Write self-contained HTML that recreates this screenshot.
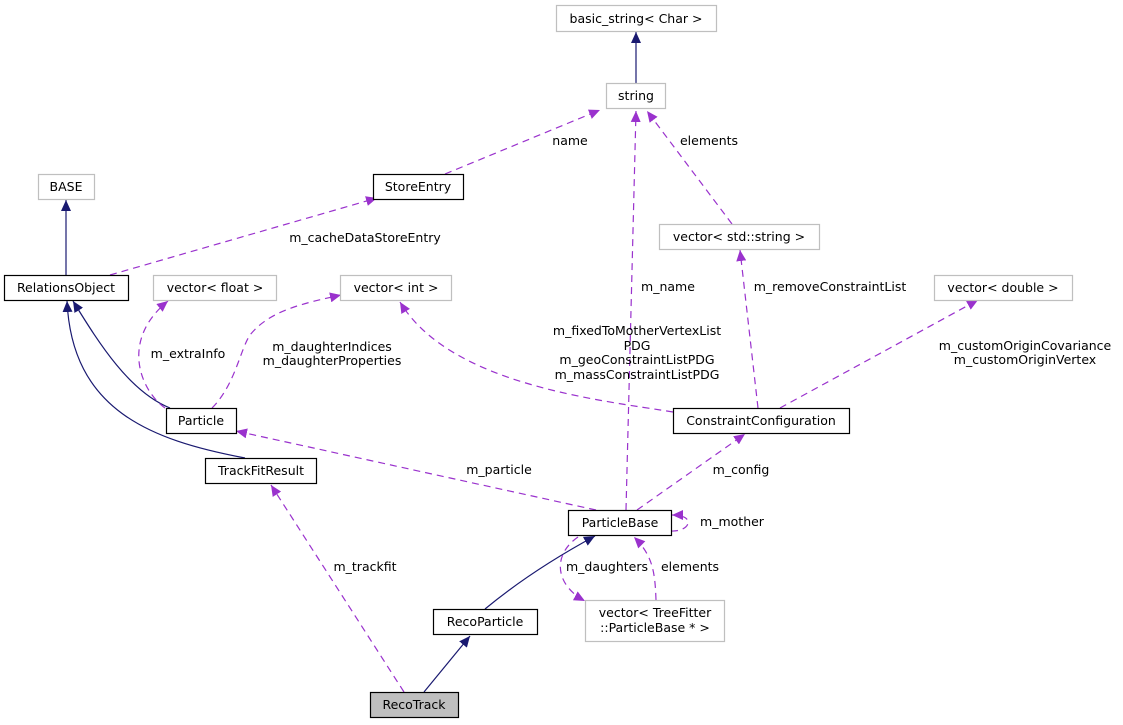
<!DOCTYPE html>
<html><head><meta charset="utf-8"><style>
html,body{margin:0;padding:0;background:#fff;}
svg{display:block;}
text{font-family:"DejaVu Sans","Liberation Sans",sans-serif;font-size:12.5px;fill:#000;}
</style></head><body>
<svg width="1123" height="725" viewBox="0 0 1123 725" xmlns="http://www.w3.org/2000/svg">
<defs>
<marker id="ap" markerUnits="userSpaceOnUse" markerWidth="12" markerHeight="10" refX="11" refY="5" orient="auto"><path d="M0,0 L11,5 L0,10 Z" fill="#9a32cd"/></marker>
<marker id="an" markerUnits="userSpaceOnUse" markerWidth="12" markerHeight="10" refX="11" refY="5" orient="auto"><path d="M0,0 L11,5 L0,10 Z" fill="#191970"/></marker>
</defs>
<g fill="none" stroke="#191970" stroke-width="1.2">
<path d="M636,83 L636,32" marker-end="url(#an)"/>
<path d="M66,275 L66,200" marker-end="url(#an)"/>
<path d="M170,408 C130,392 100,345 73,301" marker-end="url(#an)"/>
<path d="M245,458 C150,440 72,410 67,301" marker-end="url(#an)"/>
<path d="M485,609 C520,580 560,555 595,536" marker-end="url(#an)"/>
<path d="M424,692 L470,636" marker-end="url(#an)"/>
</g>
<g fill="none" stroke="#9a32cd" stroke-width="1.2" stroke-dasharray="7,5">
<path d="M445,174 L600,110" marker-end="url(#ap)"/>
<path d="M732,224 L647,111" marker-end="url(#ap)"/>
<path d="M626,510 L636,111" marker-end="url(#ap)"/>
<path d="M110,275 L377,198" marker-end="url(#ap)"/>
<path d="M165,408 C140,390 120,340 168,301" marker-end="url(#ap)"/>
<path d="M212,408 C235,385 240,350 250,335 C270,310 305,303 341,295" marker-end="url(#ap)"/>
<path d="M673,412 C600,400 450,385 400,302" marker-end="url(#ap)"/>
<path d="M758,408 L740,250" marker-end="url(#ap)"/>
<path d="M780,408 L978,300" marker-end="url(#ap)"/>
<path d="M596,510 L236,431" marker-end="url(#ap)"/>
<path d="M637,510 L745,434" marker-end="url(#ap)"/>
<path d="M671,531 C690,532 697,515 672,515" marker-end="url(#ap)"/>
<path d="M578,537 C552,555 555,585 585,601" marker-end="url(#ap)"/>
<path d="M656,600 C655,570 652,555 634,537" marker-end="url(#ap)"/>
<path d="M404,692 L271,485" marker-end="url(#ap)"/>
</g>
<g stroke-width="1.2">
<rect x="556.5" y="5.5" width="160" height="26" fill="#fff" stroke="#bfbfbf"/>
<rect x="606.5" y="83.5" width="59" height="25" fill="#fff" stroke="#bfbfbf"/>
<rect x="38.5" y="174.5" width="56" height="25" fill="#fff" stroke="#bfbfbf"/>
<rect x="373.5" y="174.5" width="90" height="25" fill="#fff" stroke="#000"/>
<rect x="659.5" y="224.5" width="160" height="25" fill="#fff" stroke="#bfbfbf"/>
<rect x="4.5" y="275.5" width="124" height="25" fill="#fff" stroke="#000"/>
<rect x="153.5" y="275.5" width="123" height="25" fill="#fff" stroke="#bfbfbf"/>
<rect x="340.5" y="275.5" width="111" height="25" fill="#fff" stroke="#bfbfbf"/>
<rect x="934.5" y="275.5" width="138" height="25" fill="#fff" stroke="#bfbfbf"/>
<rect x="166.5" y="408.5" width="70" height="25" fill="#fff" stroke="#000"/>
<rect x="673.5" y="408.5" width="176" height="25" fill="#fff" stroke="#000"/>
<rect x="205.5" y="458.5" width="111" height="25" fill="#fff" stroke="#000"/>
<rect x="568.5" y="510.5" width="103" height="25" fill="#fff" stroke="#000"/>
<rect x="433.5" y="609.5" width="104" height="25" fill="#fff" stroke="#000"/>
<rect x="585.5" y="600.5" width="139" height="41" fill="#fff" stroke="#bfbfbf"/>
<rect x="370.5" y="692.5" width="88" height="25" fill="#bfbfbf" stroke="#000"/>
</g>
<g text-anchor="middle">
<text x="636" y="23">basic_string&lt; Char &gt;</text>
<text x="636" y="100">string</text>
<text x="66" y="191">BASE</text>
<text x="418" y="191">StoreEntry</text>
<text x="739" y="241">vector&lt; std::string &gt;</text>
<text x="66" y="292">RelationsObject</text>
<text x="215" y="292">vector&lt; float &gt;</text>
<text x="396" y="292">vector&lt; int &gt;</text>
<text x="1003" y="292">vector&lt; double &gt;</text>
<text x="201" y="425">Particle</text>
<text x="761" y="425">ConstraintConfiguration</text>
<text x="261" y="475">TrackFitResult</text>
<text x="620" y="527">ParticleBase</text>
<text x="485" y="626">RecoParticle</text>
<text x="655" y="617">vector&lt; TreeFitter</text>
<text x="655" y="632">::ParticleBase * &gt;</text>
<text x="414" y="709">RecoTrack</text>
<text x="570" y="145">name</text>
<text x="709" y="145">elements</text>
<text x="668" y="291">m_name</text>
<text x="830" y="291">m_removeConstraintList</text>
<text x="365" y="242">m_cacheDataStoreEntry</text>
<text x="188" y="358">m_extraInfo</text>
<text x="332" y="351">m_daughterIndices</text>
<text x="332" y="365">m_daughterProperties</text>
<text x="637" y="335">m_fixedToMotherVertexList</text>
<text x="637" y="350">PDG</text>
<text x="637" y="364">m_geoConstraintListPDG</text>
<text x="637" y="379">m_massConstraintListPDG</text>
<text x="1025" y="350">m_customOriginCovariance</text>
<text x="1025" y="364">m_customOriginVertex</text>
<text x="499" y="474">m_particle</text>
<text x="741" y="474">m_config</text>
<text x="732" y="526">m_mother</text>
<text x="607" y="571">m_daughters</text>
<text x="690" y="571">elements</text>
<text x="365" y="571">m_trackfit</text>
</g>
</svg>
</body></html>
